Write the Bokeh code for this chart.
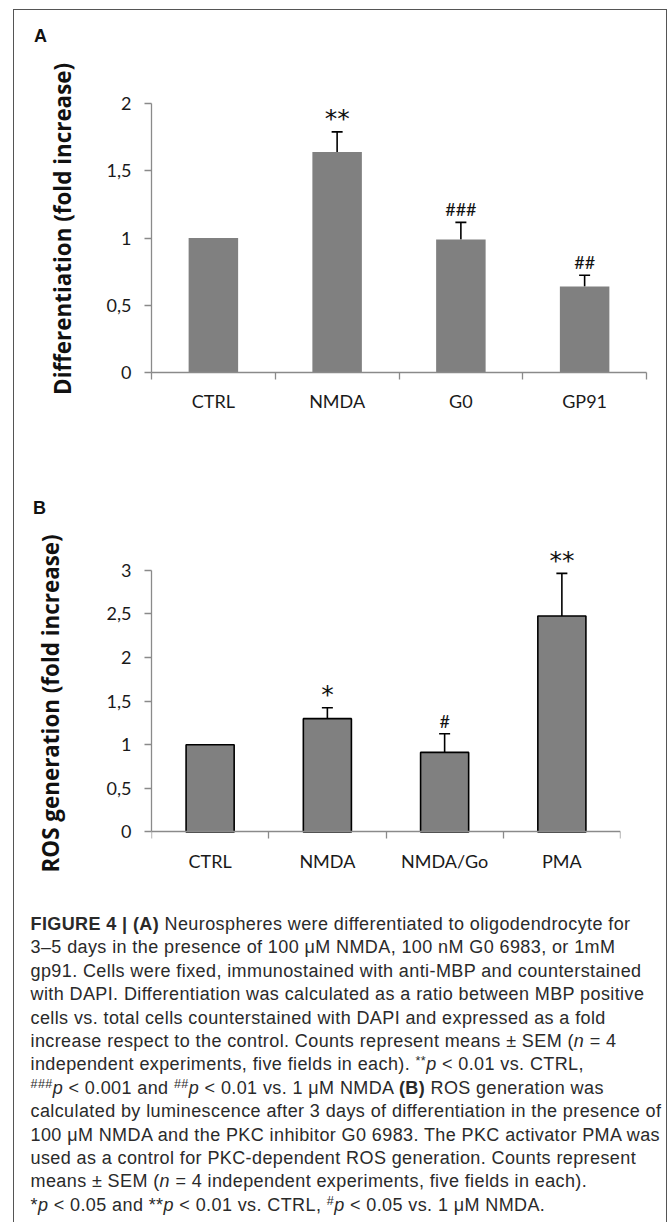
import numpy as np
from bokeh.plotting import figure
from bokeh.models import (ColumnDataSource, FixedTicker, Whisker, TeeHead, Div,
                          Range1d, InlineStyleSheet)
from bokeh.layouts import column
from bokeh.embed import file_html
from bokeh.resources import INLINE
from bokeh.core.properties import value

# ---------------- data ----------------
cats_a = ["CTRL", "NMDA", "G0", "GP91"]
vals_a = [1.0, 1.64, 0.99, 0.64]
err_a = [0.0, 0.15, 0.127, 0.084]
sig_a = ["", "**", "###", "##"]
yticks_a = [0, 0.5, 1, 1.5, 2]
ylabels_a = ["0", "0,5", "1", "1,5", "2"]
ytitle_a = "Differentiation (fold  increase)"

cats_b = ["CTRL", "NMDA", "NMDA/Go", "PMA"]
vals_b = [1.0, 1.30, 0.913, 2.477]
err_b = [0.0, 0.125, 0.214, 0.489]
sig_b = ["", "*", "#", "**"]
yticks_b = [0, 0.5, 1, 1.5, 2, 2.5, 3]
ylabels_b = ["0", "0,5", "1", "1,5", "2", "2,5", "3"]
ytitle_b = "ROS generation (fold  increase)"

AXIS_COLOR = "#8a8a8a"
BAR_COLOR = "#808080"
TICK_FONT = "Lato"
TITLE_FONT = "Open Sans"
W = 652


def make_panel(cats, vals, errs, sigs, yticks, ylabels, ytitle, ymin, ymax,
               frame_w, frame_h, mb_left, mb_right, mb_top, mb_bottom,
               bar_width, bar_line, cat_standoff, title_standoff, axis_at_zero):
    n = len(cats)
    xs = np.arange(n) + 0.5
    px_per_unit = frame_h / (ymax - ymin)
    p = figure(frame_width=frame_w, frame_height=frame_h, x_range=Range1d(0, n),
               y_range=Range1d(ymin, ymax), output_backend="svg",
               toolbar_location=None, min_border_left=mb_left,
               min_border_right=mb_right, min_border_top=mb_top,
               min_border_bottom=mb_bottom)
    p.xgrid.visible = False
    p.ygrid.visible = False
    p.outline_line_color = None
    p.background_fill_color = "white"
    p.border_fill_color = "white"

    vals = np.array(vals, dtype=float)
    errs = np.array(errs, dtype=float)
    src = ColumnDataSource(dict(x=xs, top=vals))
    if bar_line:
        p.vbar(x="x", top="top", bottom=0, width=bar_width, source=src,
               fill_color=BAR_COLOR, line_color="black", line_width=1.6)
    else:
        p.vbar(x="x", top="top", bottom=0, width=bar_width, source=src,
               fill_color=BAR_COLOR, line_color=None)

    mask = errs > 0
    esrc = ColumnDataSource(dict(x=xs[mask], top=vals[mask],
                                 upper=(vals + errs)[mask]))
    wh = Whisker(source=esrc, base="x", upper="upper", lower="top",
                 dimension="height", line_color="black", line_width=1.6,
                 upper_head=TeeHead(size=11, line_color="black", line_width=1.6),
                 lower_head=None)
    p.add_layout(wh)

    # significance marks, floated a few pixels above the error-bar caps
    star_x, star_y, star_t = [], [], []
    hash_x, hash_y, hash_t = [], [], []
    for x, v, e, s in zip(xs, vals, errs, sigs):
        if "*" in s:
            star_x.append(x); star_y.append(v + e + 13.0 / px_per_unit); star_t.append(s)
        elif "#" in s:
            hash_x.append(x); hash_y.append(v + e + 13.0 / px_per_unit); hash_t.append(s)
    p.text(x=star_x, y=star_y, text=star_t, text_align="center",
           text_baseline="alphabetic", text_font=value("DejaVu Sans"),
           text_font_size="25px", text_color="#111111")
    p.text(x=hash_x, y=hash_y, text=hash_t, text_align="center",
           text_baseline="alphabetic", text_font=value(TICK_FONT),
           text_font_size="18px", text_color="#111111")

    # x axis: labels at centers, ticks at category boundaries
    xa = p.xaxis[0]
    if axis_at_zero:
        xa.fixed_location = 0
    xa.ticker = FixedTicker(ticks=list(xs), minor_ticks=list(range(n + 1)))
    xa.major_label_overrides = {float(x): c for x, c in zip(xs, cats)}
    xa.major_tick_line_color = None
    xa.major_tick_out = 0
    xa.major_tick_in = 0
    xa.minor_tick_line_color = AXIS_COLOR
    xa.minor_tick_line_width = 1.3
    xa.minor_tick_out = 7
    xa.minor_tick_in = 0
    xa.axis_line_color = AXIS_COLOR
    xa.axis_line_width = 1.3
    xa.major_label_text_font = TICK_FONT
    xa.major_label_text_font_size = "18px"
    xa.major_label_text_color = "#1a1a1a"
    xa.major_label_standoff = cat_standoff

    ya = p.yaxis[0]
    ya.ticker = FixedTicker(ticks=yticks, minor_ticks=[])
    ya.major_label_overrides = {float(t): l for t, l in zip(yticks, ylabels)}
    ya.bounds = (0, max(yticks))
    ya.axis_line_color = AXIS_COLOR
    ya.axis_line_width = 1.3
    ya.major_tick_line_color = AXIS_COLOR
    ya.major_tick_line_width = 1.3
    ya.major_tick_out = 7
    ya.major_tick_in = 0
    ya.minor_tick_line_color = None
    ya.major_label_text_font = TICK_FONT
    ya.major_label_text_font_size = "18px"
    ya.major_label_text_color = "#1a1a1a"
    ya.major_label_standoff = 13
    ya.axis_label = ytitle
    ya.axis_label_text_font = TITLE_FONT
    ya.axis_label_text_font_style = "bold"
    ya.axis_label_text_font_size = "22.4px"
    ya.axis_label_text_color = "#111111"
    ya.axis_label_standoff = title_standoff
    return p


def letter_div(letter, height, pad_top, pad_left):
    html = ('<div style="font-family: \'Liberation Sans\', Arial, sans-serif; '
            'font-weight: bold; font-size: 18px; line-height: 20px; color: #111; '
            f'padding: {pad_top}px 0 0 {pad_left}px;">{letter}</div>')
    return Div(text=html, width=W, height=height, margin=0)


divA = letter_div("A", 40, 16, 20)
pA = make_panel(cats_a, vals_a, err_a, sig_a, yticks_a, ylabels_a, ytitle_a,
                ymin=0, ymax=2.18, frame_w=495, frame_h=293, mb_left=137,
                mb_right=20, mb_top=29, mb_bottom=118, bar_width=0.40,
                bar_line=False, cat_standoff=10, title_standoff=26,
                axis_at_zero=False)
divB = letter_div("B", 35, 8, 19)
pB = make_panel(cats_b, vals_b, err_b, sig_b, yticks_b, ylabels_b, ytitle_b,
                ymin=-0.453, ymax=3.469, frame_w=469, frame_h=342, mb_left=133,
                mb_right=50, mb_top=4, mb_bottom=24, bar_width=0.41,
                bar_line=True, cat_standoff=11, title_standoff=38,
                axis_at_zero=True)

SUP = '<span style="position: relative; top: -0.45em; font-size: 0.7em; line-height: 0;">'
caption_lines = [
    "<b>FIGURE 4 | (A)</b> Neurospheres were differentiated to oligodendrocyte for",
    "3&ndash;5 days in the presence of 100 &mu;M NMDA, 100 nM G0 6983, or 1mM",
    "gp91. Cells were fixed, immunostained with anti-MBP and counterstained",
    "with DAPI. Differentiation was calculated as a ratio between MBP positive",
    "cells vs. total cells counterstained with DAPI and expressed as a fold",
    "increase respect to the control. Counts represent means &plusmn; SEM (<i>n</i> = 4",
    "independent experiments, five fields in each). " + SUP + "**</span><i>p</i> &lt; 0.01 vs. CTRL,",
    SUP + "###</span><i>p</i> &lt; 0.001 and " + SUP + "##</span><i>p</i> &lt; 0.01 vs. 1 &mu;M NMDA <b>(B)</b> ROS generation was",
    "calculated by luminescence after 3 days of differentiation in the presence of",
    "100 &mu;M NMDA and the PKC inhibitor G0 6983. The PKC activator PMA was",
    "used as a control for PKC-dependent ROS generation. Counts represent",
    "means &plusmn; SEM (<i>n</i> = 4 independent experiments, five fields in each).",
    "*<i>p</i> &lt; 0.05 and **<i>p</i> &lt; 0.01 vs. CTRL, " + SUP + "#</span><i>p</i> &lt; 0.05 vs. 1 &mu;M NMDA.",
]
caption_html = (
    '<div style="font-family: \'Liberation Sans\', Arial, sans-serif; font-size: 18px; '
    'letter-spacing: 0.4px; line-height: 23.4px; color: #2a2a2a; white-space: nowrap; '
    'padding: 18px 0 0 16.5px;">'
    + "<br>".join(caption_lines)
    + "</div>"
)
cap = Div(text=caption_html, width=W, height=327, margin=0)

box_css = InlineStyleSheet(css=":host { border-top: 1.5px solid #555555; "
                               "border-left: 1.5px solid #555555; "
                               "border-right: 1.5px solid #555555; }")
layout = column(divA, pA, divB, pB, cap, margin=(9, 0, 0, 13),
                stylesheets=[box_css])

open("out.html", "w").write(file_html(layout, INLINE))
